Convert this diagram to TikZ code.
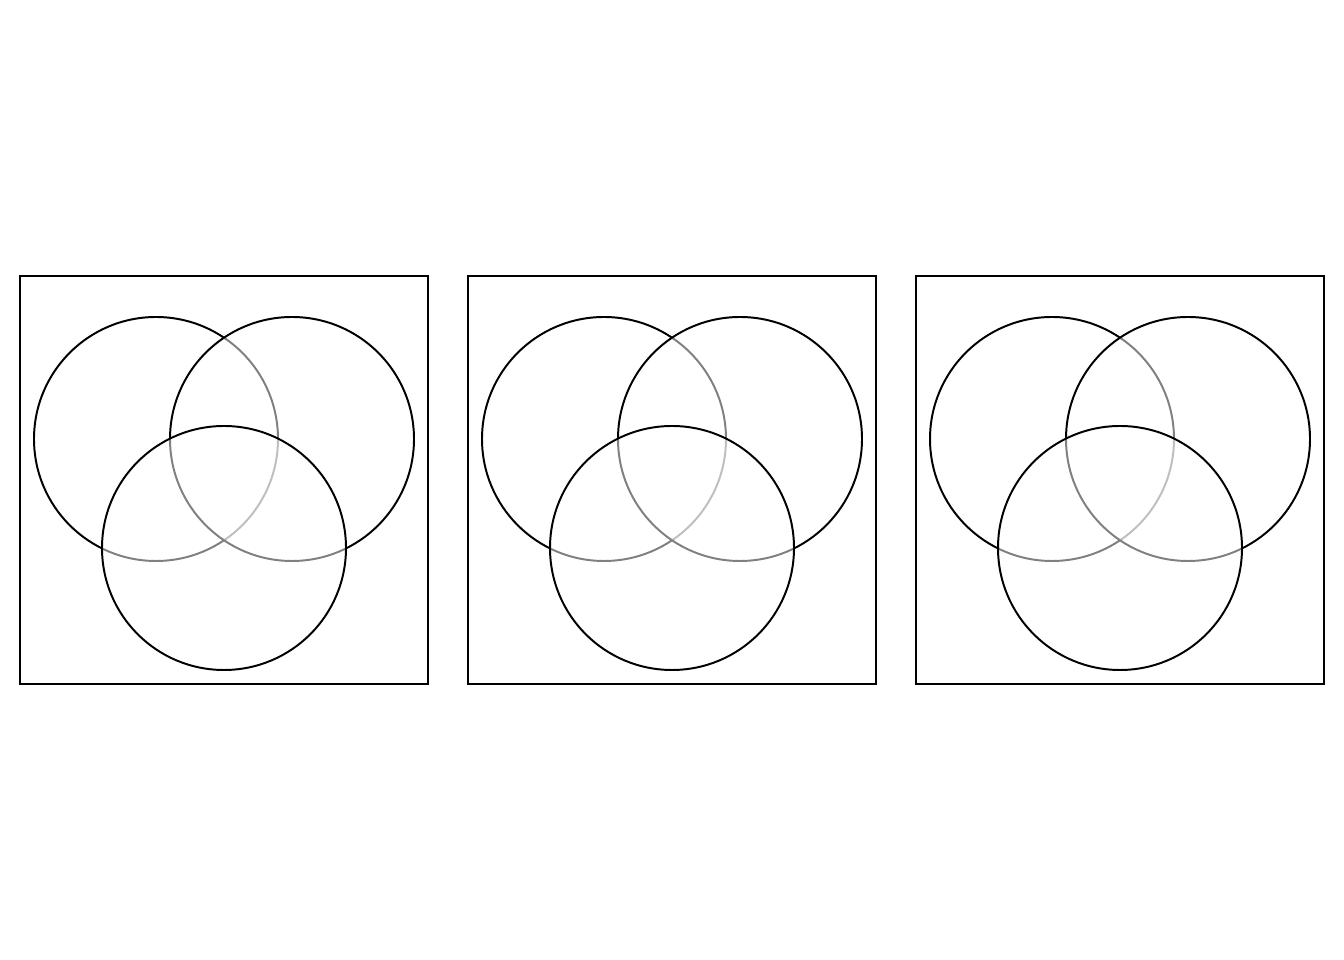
\documentclass[tikz,border=0pt]{standalone}
\tikzset{vset/.style={fill=white,fill opacity=0.5}}
\begin{document}
\begin{tikzpicture}[line width=1.4pt]
  \useasboundingbox (-0.5,-6.9) rectangle (33.1,17.1);
  \def\venn#1{\draw (#1,0) rectangle ++(10.2,10.2);
    \draw[vset] (#1+3.4,6.125) circle (3.05);
    \draw[vset] (#1+6.8,6.125) circle (3.05);
    \draw[vset] (#1+5.1,3.4) circle (3.05);}
  % three identical panels
  \foreach \x in {0,11.2,22.4}{\venn{\x}}
\end{tikzpicture}
\end{document}
